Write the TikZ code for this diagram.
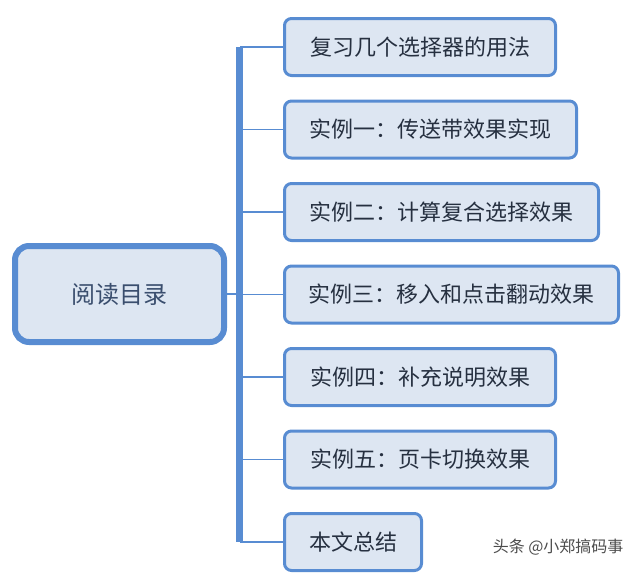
\documentclass[tikz,border=0pt]{standalone}
\usepackage{fontspec}
\setmainfont{Noto Sans CJK SC}
\usetikzlibrary{positioning}

\definecolor{boxblue}{RGB}{88,140,210}
\definecolor{boxfill}{RGB}{221,230,242}
\definecolor{txtdark}{RGB}{38,48,64}
\definecolor{roottxt}{RGB}{58,78,110}

\begin{document}
\begin{tikzpicture}[
			x=1pt, y=-1pt,
			font=\fontsize{22pt}{26pt}\selectfont,
			item/.style={draw=boxblue, fill=boxfill, line width=3pt, rounded corners=7pt, minimum height=57pt, inner sep=0pt, text=txtdark},
			root/.style={draw=boxblue, fill=boxfill, line width=6pt, rounded corners=14pt, minimum width=209pt, minimum height=96pt, inner sep=0pt, text=roottxt, font=\fontsize{24pt}{28pt}\selectfont},
			link/.style={draw=boxblue, line width=1.5pt},
			spine/.style={draw=boxblue, line width=7pt}
		]
		\useasboundingbox (0,0) rectangle (640,582);

		\node[root] (root) at (119.5,294) {阅读目录};

		\node[item, minimum width=271pt, anchor=north west] (i1) at (283,17) {复习几个选择器的用法};
		\node[item, minimum width=292pt, below right=22.5pt and 0pt of i1.south west] (i2) {实例一：传送带效果实现};
		\node[item, minimum width=314pt, below right=22.5pt and 0pt of i2.south west] (i3) {实例二：计算复合选择效果};
		\node[item, minimum width=334pt, below right=22.5pt and 0pt of i3.south west] (i4) {实例三：移入和点击翻动效果};
		\node[item, minimum width=271pt, below right=22.5pt and 0pt of i4.south west] (i5) {实例四：补充说明效果};
		\node[item, minimum width=271pt, below right=22.5pt and 0pt of i5.south west] (i6) {实例五：页卡切换效果};
		\node[item, minimum width=137pt, below right=22.5pt and 0pt of i6.south west] (i7) {本文总结};

		\coordinate (sp) at (239.5,0);
		\foreach \n in {1,...,7}
			\draw[link] (i\n.west) -- (i\n.west -| sp);
		\draw[link] (root.east) -- (root.east -| sp);
		\draw[spine] (i1.west -| sp) -- (i7.west -| sp);

		\node[font=\fontsize{16pt}{19pt}\selectfont, text=black!70, anchor=east] (mark) at (627,547) {头条 @小郑搞码事};
	\end{tikzpicture}
\end{document}
